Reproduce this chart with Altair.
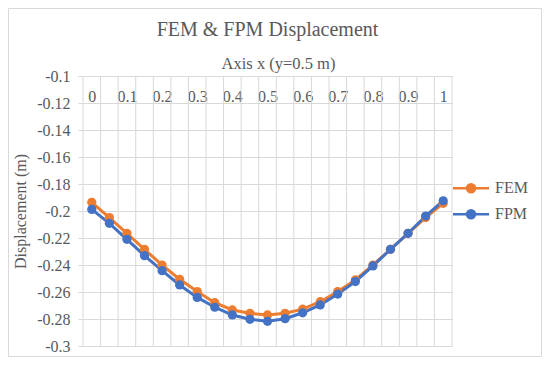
import altair as alt
import pandas as pd

# ---- data ----
x_cats = [0.0, 0.05, 0.1, 0.15, 0.2, 0.25, 0.3, 0.35, 0.4, 0.45, 0.5,
          0.55, 0.6, 0.65, 0.7, 0.75, 0.8, 0.85, 0.9, 0.95, 1.0]
fem = [-0.1936, -0.2049, -0.2165, -0.2284, -0.2400, -0.2506, -0.2597, -0.2679,
       -0.2733, -0.2758, -0.2770, -0.2758, -0.2727, -0.2672, -0.2597, -0.2511,
       -0.2400, -0.2284, -0.2165, -0.2049, -0.1943]
fpm = [-0.1988, -0.2091, -0.2210, -0.2331, -0.2442, -0.2548, -0.2640, -0.2713,
       -0.2770, -0.2802, -0.2817, -0.2798, -0.2754, -0.2696, -0.2615, -0.2523,
       -0.2407, -0.2284, -0.2165, -0.2037, -0.1924]
series = ["FEM", "FPM"]
colors = ["#ED7D31", "#4472C4"]
x_labels = [0.0, 0.1, 0.2, 0.3, 0.4, 0.5, 0.6, 0.7, 0.8, 0.9, 1.0]
y_ticks = [-0.3, -0.28, -0.26, -0.24, -0.22, -0.2, -0.18, -0.16, -0.14, -0.12, -0.1]

FONT = "Liberation Serif"
TXT = "#595959"
GRID = "#d9d9d9"

df = pd.DataFrame({
    "x": x_cats * 2,
    "d": fem + fpm,
    "Series": [series[0]] * len(fem) + [series[1]] * len(fpm),
})
half = (x_cats[1] - x_cats[0]) / 2
bounds = [v - half for v in x_cats] + [x_cats[-1] + half]
grid_df = pd.DataFrame({"x": bounds})

xscale = alt.Scale(domain=[x_cats[0] - half, x_cats[-1] + half], nice=False, zero=False)
yscale = alt.Scale(domain=[y_ticks[0], y_ticks[-1]], nice=False, zero=False)

x_axis = alt.Axis(
    orient="top", values=x_labels, labelExpr="format(datum.value, '.1~f')",
    grid=False, domain=False,
    ticks=False, labelPadding=-25, labelBaseline="alphabetic", labelOverlap=False,
    labelFlush=False, labelFont=FONT, labelFontSize=16, labelColor=TXT,
    title="Axis x (y=0.5 m)", titleFont=FONT, titleFontSize=16.5,
    titleFontWeight="normal", titleColor=TXT, titlePadding=5, titleX=195,
)
y_axis = alt.Axis(
    values=y_ticks,
    labelExpr="replace(format(datum.value, '.2~f'), '\u2212', '-')",
    grid=True, gridColor=GRID, gridWidth=1,
    domain=False, tickSize=5, tickColor=GRID, labelPadding=8, labelFont=FONT,
    labelFontSize=16, labelColor=TXT, title="Displacement (m)", titleFont=FONT,
    titleFontSize=16, titleFontWeight="normal", titleColor=TXT, titlePadding=8,
)

X = alt.X("x:Q", scale=xscale, axis=x_axis)
Y = alt.Y("d:Q", scale=yscale, axis=y_axis)

grid = alt.Chart(grid_df).mark_rule(color=GRID, strokeWidth=1).encode(x=X)

legend = alt.Legend(
    title=None, orient="none", legendX=371.5, legendY=95.7, padding=0, rowPadding=0,
    symbolType="M-1.2,0L1.2,0M-0.27,0A0.27,0.27,0,1,1,0.27,0A0.27,0.27,0,1,1,-0.27,0Z",
    symbolSize=900, symbolStrokeWidth=2.5, symbolOpacity=1, labelOffset=7.5,
    labelFont=FONT, labelFontSize=16, labelColor=TXT,
)

lines = alt.Chart(df).mark_line(
    strokeWidth=3, point=alt.OverlayMarkDef(filled=True, size=85, opacity=1)
).encode(
    x=X, y=Y,
    color=alt.Color("Series:N", scale=alt.Scale(domain=series, range=colors), legend=legend),
)

border = alt.Chart(pd.DataFrame({"b": [0]})).mark_rect(
    fillOpacity=0, stroke=GRID, strokeWidth=1
).encode(x=alt.value(-74.5), x2=alt.value(458.5), y=alt.value(-67.5), y2=alt.value(280.5))

chart = alt.layer(border, grid, lines).properties(
    width=369, height=270,
    autosize=alt.AutoSizeParams(type="none"),
    padding={"left": 75, "top": 68, "right": 90, "bottom": 11},
    title=alt.TitleParams(
        "FEM & FPM Displacement", font=FONT, fontSize=20, fontWeight="normal",
        color=TXT, anchor="middle", frame="group", offset=-31.5,
    ),
).configure(font=FONT).configure_view(stroke=None).configure_axis(
    labelFont=FONT, titleFont=FONT
).configure_legend(labelFont=FONT)

chart.save("out.html", embed_options={"renderer": "svg", "actions": False})
